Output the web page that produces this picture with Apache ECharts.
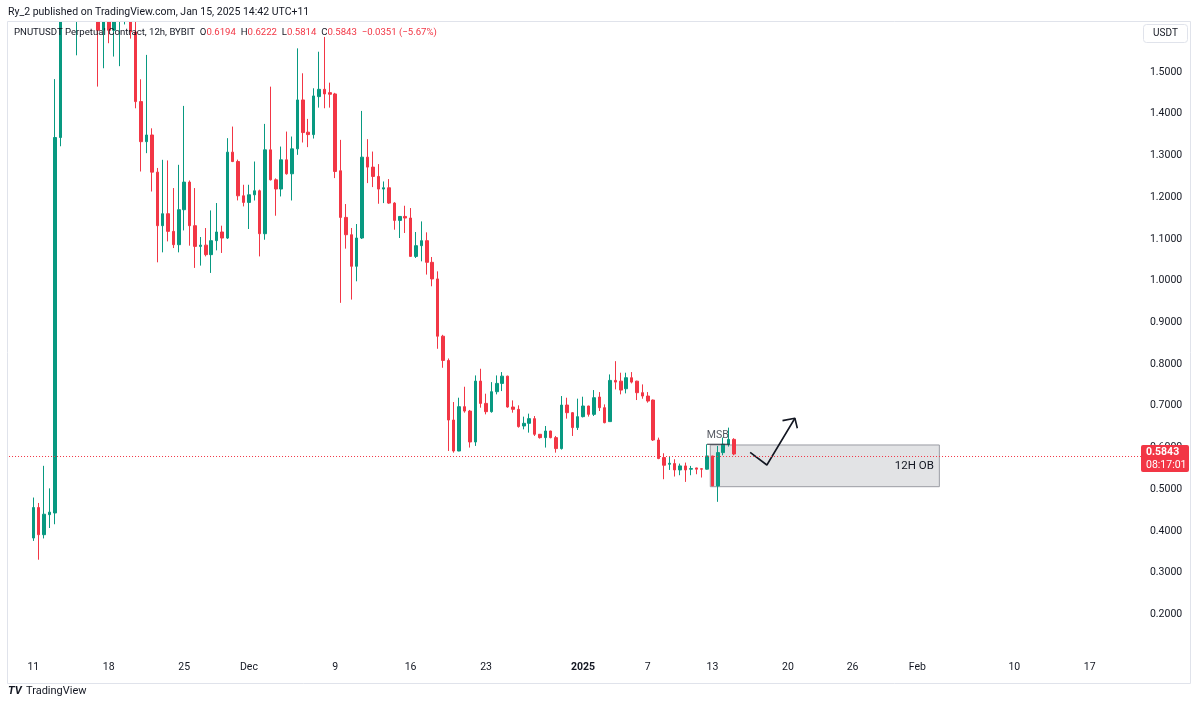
<!DOCTYPE html>
<html><head><meta charset="utf-8">
<script src="https://cdn.jsdelivr.net/npm/echarts@6/dist/echarts.min.js"></script>
<style>html,body{margin:0;padding:0;background:#fff}#c{width:1200px;height:706px}</style>
</head><body><div id="c"></div><script>
// ---- data (12h candles, PNUTUSDT Bybit, first candle = Nov 11) ----
const open=[0.383,0.456,0.391,0.439,0.443,1.343,1.72,2.05,1.72,1.92,1.80,1.75,1.70,1.60,1.66,1.60,1.65,1.68,1.70,1.596,
1.429,1.333,1.349,1.26,1.1316,1.1603,1.118,1.0861,1.1699,1.2361,1.1316,1.082,1.085,1.0622,1.0957,1.1165,1.102,1.3079,1.2854,1.2033,
1.1874,1.2057,1.2153,1.1124,1.3134,1.2416,1.2195,1.2895,1.256,1.3158,1.433,1.3557,1.35,1.441,1.4585,1.4505,1.4474,1.2632,1.1515,1.11,
1.0343,1.1021,1.2959,1.272,1.2496,1.2194,1.2225,1.1858,1.1443,1.1538,1.15,1.058,1.0837,1.0957,1.0438,1.004,0.8667,0.8086,0.6658,0.5916,
0.6978,0.6873,0.6132,0.7591,0.7057,0.6858,0.7337,0.7536,0.771,0.697,0.6914,0.6515,0.6579,0.6691,0.6316,0.6236,0.6395,0.6236,0.5973,0.7017,
0.6834,0.6476,0.6739,0.6994,0.6794,0.7209,0.6954,0.662,0.7608,0.759,0.7408,0.7672,0.759,0.7313,0.7233,0.7137,0.6179,0.5758,0.5598,0.5614,
0.5462,0.5558,0.548,0.551,0.549,0.548,0.5797,0.5079,0.5877,0.6077,0.6194];
const high=[0.480,0.467,0.556,0.502,1.483,1.76,2.10,2.45,2.00,2.15,1.95,1.88,1.78,1.72,1.70,1.70,1.72,1.72,1.72,1.64,
1.4825,1.541,1.365,1.27,1.2895,1.288,1.2218,1.2775,1.4187,1.24,1.2218,1.1045,1.126,1.1682,1.1859,1.1316,1.3414,1.3692,1.29,1.2297,
1.2297,1.2854,1.218,1.3756,1.4649,1.245,1.3213,1.3572,1.3453,1.5567,1.4969,1.3876,1.461,1.5486,1.584,1.4744,1.45,1.3373,1.1835,1.1261,
1.1356,1.4067,1.339,1.3093,1.2792,1.2376,1.2433,1.188,1.1545,1.1794,1.1739,1.1165,1.1419,1.1157,1.0566,1.0222,0.87,0.8134,0.7089,0.7193,
0.7456,0.69,0.7727,0.7887,0.7289,0.7567,0.7727,0.7807,0.772,0.7129,0.701,0.6739,0.6811,0.6754,0.632,0.6515,0.64,0.6276,0.7233,0.7193,
0.685,0.717,0.7217,0.70,0.7376,0.7328,0.7033,0.7751,0.8069,0.7792,0.7792,0.7807,0.76,0.7512,0.7328,0.715,0.6236,0.5861,0.5782,0.5718,
0.5614,0.5638,0.5558,0.5515,0.55,0.6077,0.58,0.6037,0.6237,0.6476,0.6222];
const low=[0.376,0.331,0.382,0.407,0.416,1.322,1.68,1.68,1.54,1.70,1.66,1.64,1.465,1.509,1.569,1.537,1.514,1.614,1.58,1.413,
1.2615,1.3055,1.2136,1.0438,1.0677,1.094,1.078,1.0677,1.1203,1.0837,1.0304,1.0359,1.058,1.0184,1.0725,1.0663,1.0997,1.284,1.1922,1.1778,
1.1237,1.192,1.058,1.098,1.24,1.1555,1.2017,1.254,1.192,1.3014,1.331,1.3199,1.3405,1.4146,1.4131,1.4146,1.2457,0.9467,1.0766,0.9545,
0.9983,1.0997,1.2337,1.2241,1.1842,1.1858,1.184,1.122,1.1021,1.1141,1.0575,1.0542,1.0462,1.0144,0.9864,0.8366,0.7911,0.5916,0.5876,0.591,
0.6834,0.5998,0.6037,0.6954,0.6794,0.6834,0.7273,0.7352,0.6954,0.6834,0.6476,0.6435,0.6356,0.6276,0.6213,0.5998,0.622,0.5876,0.595,0.6691,
0.6276,0.6419,0.672,0.674,0.6754,0.6874,0.6579,0.662,0.7392,0.7273,0.7297,0.7536,0.7137,0.7169,0.7074,0.6156,0.572,0.5239,0.5462,0.5304,
0.5335,0.5175,0.5335,0.5359,0.528,0.547,0.5075,0.4697,0.5813,0.6021,0.5814];
const close=[0.456,0.391,0.440,0.445,1.343,1.72,2.05,1.72,1.92,1.80,1.75,1.70,1.60,1.66,1.60,1.65,1.68,1.70,1.596,1.429,
1.333,1.349,1.26,1.1316,1.1603,1.118,1.0861,1.1699,1.2361,1.1316,1.082,1.085,1.0622,1.0957,1.1165,1.102,1.3079,1.2854,1.2033,1.1874,
1.2057,1.2153,1.1124,1.3134,1.2416,1.2195,1.2895,1.256,1.3158,1.433,1.3548,1.35,1.4426,1.4585,1.4474,1.4466,1.2615,1.1515,1.11,1.0343,
1.1021,1.2959,1.272,1.2496,1.2194,1.2225,1.1858,1.1443,1.1538,1.15,1.058,1.0837,1.0957,1.0438,1.004,0.8667,0.8086,0.6658,0.5916,0.6978,
0.6873,0.6132,0.7591,0.7057,0.6858,0.7337,0.7536,0.771,0.697,0.6914,0.65,0.6579,0.6691,0.6316,0.6236,0.6395,0.6236,0.5973,0.7017,0.6834,
0.6476,0.6739,0.6994,0.6794,0.7193,0.6954,0.6595,0.7608,0.7567,0.7376,0.7672,0.7567,0.7313,0.7233,0.7113,0.6179,0.5734,0.5574,0.5622,0.5462,
0.5558,0.5462,0.5494,0.548,0.548,0.5797,0.5079,0.5877,0.6077,0.6194,0.5843];
// time-axis labels at candle indices
const tickIdx=[0,14,28,40,56,70,84,102,114,126,140,152,164,182,196];
const tickText=['11','18','25','Dec','9','16','23','2025','7','13','20','26','Feb','10','17'];
const yTicks=[0.2,0.3,0.4,0.5,0.6,0.7,0.8,0.9,1.0,1.1,1.2,1.3,1.4,1.5];
// drawings (candle index, price)
const obBox=[[125.6,0.606],[168.1,0.506]];
const msbLine=[[125,0.6077],[129.2,0.6077]];
const msbLabelAt=[127.0,0.6077];
const arrowPath=[[133.0,0.5884],[136.1,0.558],[141.3,0.67]];
const arrowHead=[[139.0,0.6643],[141.3,0.67],[141.75,0.646]];

// ---- layout ----
const SP=5.39, LEAD=4, FIRSTX=33.3, N=210;
const gridLeft=FIRSTX-(LEAD+0.5)*SP;
const gridW=N*SP;
const gTop=22, gBottom=652;
const pxPerUnit=417.2, y15=72;
const yMax=1.5+(y15-gTop)/pxPerUnit, yMin=1.5-(gBottom-y15)/pxPerUnit;

const cats=[];for(let j=0;j<N;j++)cats.push(String(j-LEAD));
const candles=open.map((o,i)=>[i+LEAD,o,close[i],low[i],high[i]]);
const tickMap={};tickIdx.forEach((t,k)=>{tickMap[t+LEAD]=tickText[k];});
const n=close.length;
const lastO=open[n-1],lastH=high[n-1],lastL=low[n-1],lastC=close[n-1],prevC=close[n-2];
const chg=lastC-prevC, pct=chg/prevC*100;
const fmt=v=>v.toFixed(4);
const minus=s=>s.replace('-','\u2212');
const F="Roboto, 'Liberation Sans', sans-serif";
const UP='#089981', DN='#F23645', TXT='#131722';

const chart=echarts.init(document.getElementById('c'),null,{renderer:'canvas'});
chart.setOption({
  animation:false,
  backgroundColor:'#ffffff',
  grid:{left:gridLeft,top:gTop,width:gridW,height:gBottom-gTop,containLabel:false},
  xAxis:[{
    type:'category',data:cats,boundaryGap:true,
    axisLine:{show:false},axisTick:{show:false},splitLine:{show:false},
    axisLabel:{
      interval:(idx)=>tickMap[idx]!==undefined,
      formatter:(v,idx)=>{const t=tickMap[idx];if(t===undefined)return '';return t==='2025'?'{b|2025}':t;},
      color:TXT,fontFamily:F,fontSize:10.5,margin:10,
      rich:{b:{fontWeight:'bold',color:TXT,fontFamily:F,fontSize:10.5}}
    }
  },{
    type:'value',min:-LEAD-0.5,max:N-LEAD-0.5,show:false
  }],
  yAxis:{
    type:'value',position:'right',min:yMin,max:yMax,scale:true,
    axisLine:{show:false},axisTick:{show:false},splitLine:{show:false},
    axisLabel:{customValues:yTicks,formatter:v=>{
        const r=Math.round(v*10)/10; if(Math.abs(v-r)>1e-6||r>1.55||r<0.15)return ''; return r.toFixed(4);},
      color:TXT,fontFamily:F,fontSize:10.5,margin:9}
  },
  series:[{
    type:'candlestick',data:candles,encode:{x:0,y:[1,2,3,4]},clip:true,
    barWidth:3,
    itemStyle:{color:UP,color0:DN,borderColor:UP,borderColor0:DN,borderWidth:1},
    markLine:{silent:true,symbol:'none',label:{show:false},
      lineStyle:{color:DN,type:[1,2],width:1},data:[{yAxis:lastC}]}
  },{
    type:'line',xAxisIndex:1,data:[],silent:true,
    markArea:{silent:true,
      itemStyle:{color:'rgba(198,199,204,0.5)',borderColor:'#9a9ca3',borderWidth:1},
      label:{show:true,position:'insideRight',distance:6,formatter:'12H OB',color:TXT,fontFamily:F,fontSize:11.5},
      data:[[{coord:obBox[0]},{coord:obBox[1]}]]}
  },{
    type:'line',xAxisIndex:1,data:msbLine,symbol:'none',silent:true,
    lineStyle:{color:'#2a2e39',width:1.2}
  },{
    type:'scatter',xAxisIndex:1,data:[msbLabelAt],symbolSize:0,silent:true,
    label:{show:true,position:'top',distance:3,formatter:'MSB',color:'#2a2e39',fontFamily:F,fontSize:10.5}
  },{
    type:'line',xAxisIndex:1,data:arrowPath,symbol:'none',silent:true,
    lineStyle:{color:'#131722',width:1.6}
  },{
    type:'line',xAxisIndex:1,data:arrowHead,symbol:'none',silent:true,
    lineStyle:{color:'#131722',width:1.6}
  }],
  graphic:[
    {type:'rect',z:100,shape:{x:0,y:0,width:1200,height:21.5},style:{fill:'#ffffff'},silent:true},
    {type:'rect',z:101,shape:{x:7.5,y:21.5,width:1183,height:662},style:{fill:'none',stroke:'#e0e3eb',lineWidth:1},silent:true},
    {type:'text',z:102,x:8,y:12,style:{text:'Ry_2 published on TradingView.com, Jan 15, 2025 14:42 UTC+11',font:'10.5px '+F,fill:TXT,textVerticalAlign:'middle'}},
    {type:'text',z:102,x:14,y:33,style:{
      text:'PNUTUSDT Perpetual Contract, 12h, BYBIT  {k|O}{v|'+fmt(lastO)+'}  {k|H}{v|'+fmt(lastH)+'}  {k|L}{v|'+fmt(lastL)+'}  {k|C}{v|'+fmt(lastC)+'}  {v|'+minus(chg.toFixed(4))+' ('+minus(pct.toFixed(2))+'%)}',
      font:'9.6px '+F,fill:TXT,textVerticalAlign:'middle',
      rich:{k:{fill:TXT,font:'9.6px '+F},v:{fill:DN,font:'9.6px '+F}}}},
    {type:'rect',z:101,shape:{x:1143.5,y:24.5,width:44,height:18,r:3},style:{fill:'#fff',stroke:'#e0e3eb',lineWidth:1}},
    {type:'text',z:102,x:1165.5,y:33.5,style:{text:'USDT',font:'10px '+F,fill:TXT,textAlign:'center',textVerticalAlign:'middle'}},
    {type:'rect',z:101,shape:{x:1141,y:445,width:48,height:27,r:2},style:{fill:DN}},
    {type:'text',z:102,x:1146,y:452.5,style:{text:fmt(lastC),font:'bold 10.5px '+F,fill:'#fff',textVerticalAlign:'middle'}},
    {type:'text',z:102,x:1146,y:465,style:{text:'08:17:01',font:'10.5px '+F,fill:'#fff',textVerticalAlign:'middle'}},
    {type:'text',z:102,x:8,y:691,style:{text:'TV',font:'italic bold 11px '+F,fill:TXT,textVerticalAlign:'middle'}},
    {type:'text',z:102,x:26,y:691,style:{text:'TradingView',font:'11px '+F,fill:TXT,textVerticalAlign:'middle'}}
  ]
});
</script></body></html>
